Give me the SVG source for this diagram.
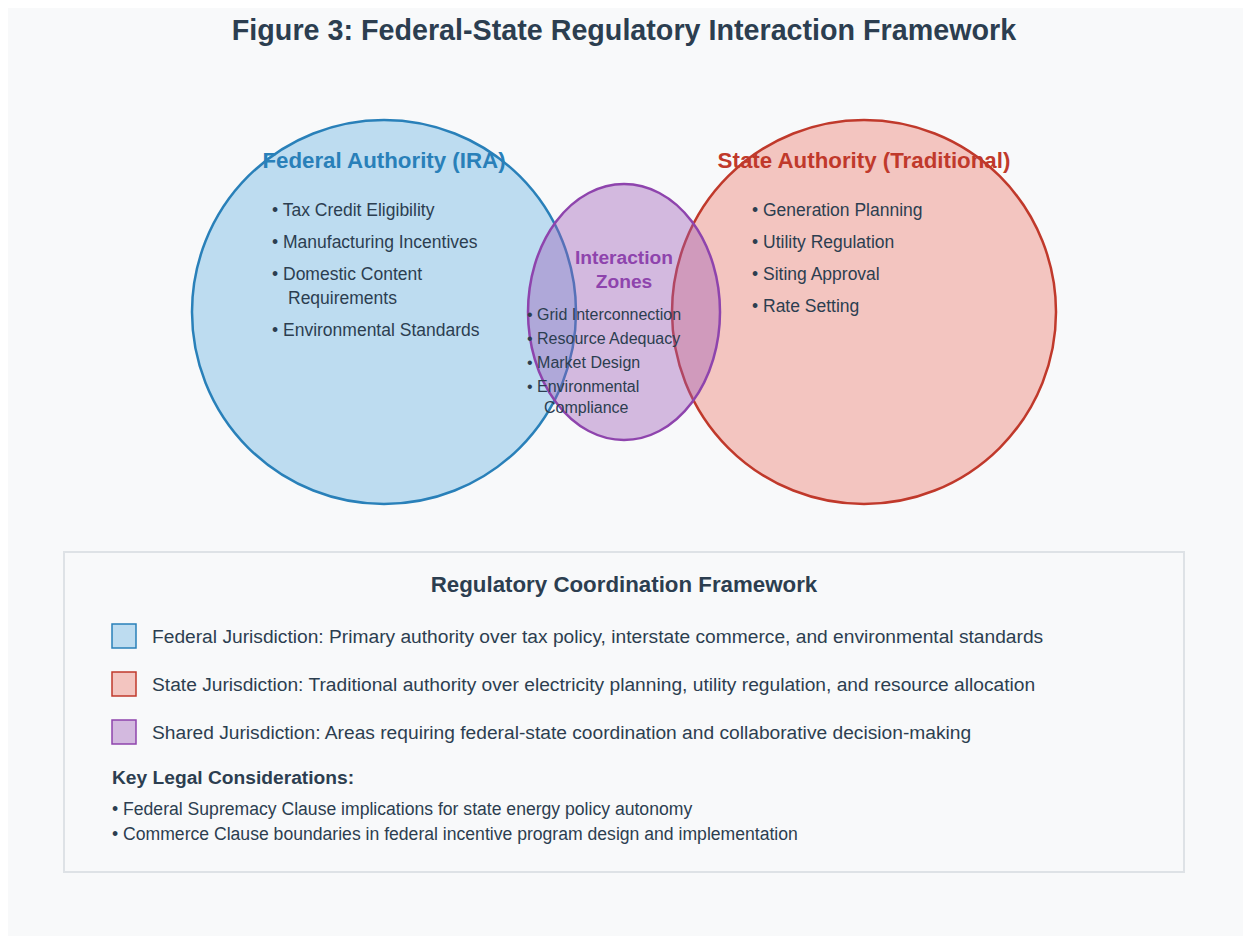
<svg xmlns="http://www.w3.org/2000/svg" width="1243" height="936" viewBox="0 0 1243 936">
<style>
text{font-family:"Liberation Sans",Arial,sans-serif;}
.title{font-size:28.7px;font-weight:bold;fill:#2c3e50;text-anchor:middle;}
.head{font-size:22.3px;font-weight:bold;text-anchor:middle;}
.item{font-size:17.5px;fill:#2c3e50;}
.small{font-size:16px;fill:#2c3e50;}
.leg{font-size:19.2px;fill:#2c3e50;}
.legb{font-size:19.2px;font-weight:bold;fill:#2c3e50;}
.bul{font-size:17.6px;fill:#2c3e50;}
</style>
<rect x="0" y="0" width="1243" height="936" fill="#ffffff"/>
<rect x="8" y="8" width="1235" height="928" fill="#f8f9fa"/>
<text class="title" x="624" y="40">Figure 3: Federal-State Regulatory Interaction Framework</text>

<g id="federal">
<circle cx="384" cy="312" r="192" fill="#3498db" fill-opacity="0.3" stroke="#2980b9" stroke-width="2.5"/>
</g>
<g id="state">
<circle cx="864" cy="312" r="192" fill="#e74c3c" fill-opacity="0.3" stroke="#c0392b" stroke-width="2.5"/>
</g>
<g id="interaction">
<ellipse cx="624" cy="312" rx="96" ry="128" fill="#9b59b6" fill-opacity="0.4" stroke="#8e44ad" stroke-width="2.5"/>
</g>

<g id="federal-text">
<text class="head" x="384" y="168" fill="#2980b9">Federal Authority (IRA)</text>
<text class="item" x="272" y="216">• Tax Credit Eligibility</text>
<text class="item" x="272" y="248">• Manufacturing Incentives</text>
<text class="item" x="272" y="280">• Domestic Content</text>
<text class="item" x="288" y="304">Requirements</text>
<text class="item" x="272" y="336">• Environmental Standards</text>
</g>
<g id="state-text">
<text class="head" x="864" y="168" fill="#c0392b">State Authority (Traditional)</text>
<text class="item" x="752" y="216">• Generation Planning</text>
<text class="item" x="752" y="248">• Utility Regulation</text>
<text class="item" x="752" y="280">• Siting Approval</text>
<text class="item" x="752" y="312">• Rate Setting</text>
</g>
<g id="interaction-text">
<text x="624" y="264" font-size="19.2" font-weight="bold" fill="#8e44ad" text-anchor="middle">Interaction</text>
<text x="624" y="288" font-size="19.2" font-weight="bold" fill="#8e44ad" text-anchor="middle">Zones</text>
<text class="small" x="527" y="320">• Grid Interconnection</text>
<text class="small" x="527" y="344">• Resource Adequacy</text>
<text class="small" x="527" y="368">• Market Design</text>
<text class="small" x="527" y="392">• Environmental</text>
<text class="small" x="544" y="413">Compliance</text>
</g>

<g id="legend">
<rect x="64" y="552" width="1120" height="320" fill="#f8f9fa" stroke="#dee2e6" stroke-width="2"/>
<text class="head" x="624" y="592" fill="#2c3e50">Regulatory Coordination Framework</text>
<rect x="112" y="624" width="24" height="24" fill="#3498db" fill-opacity="0.3" stroke="#2980b9" stroke-width="1.5"/>
<text class="leg" x="152" y="643">Federal Jurisdiction: Primary authority over tax policy, interstate commerce, and environmental standards</text>
<rect x="112" y="672" width="24" height="24" fill="#e74c3c" fill-opacity="0.3" stroke="#c0392b" stroke-width="1.5"/>
<text class="leg" x="152" y="691">State Jurisdiction: Traditional authority over electricity planning, utility regulation, and resource allocation</text>
<rect x="112" y="720" width="24" height="24" fill="#9b59b6" fill-opacity="0.4" stroke="#8e44ad" stroke-width="1.5"/>
<text class="leg" x="152" y="739">Shared Jurisdiction: Areas requiring federal-state coordination and collaborative decision-making</text>
<text class="legb" x="112" y="784">Key Legal Considerations:</text>
<text class="bul" x="112" y="815">• Federal Supremacy Clause implications for state energy policy autonomy</text>
<text class="bul" x="112" y="840">• Commerce Clause boundaries in federal incentive program design and implementation</text>
</g>
<g id="connectors"></g>
</svg>
